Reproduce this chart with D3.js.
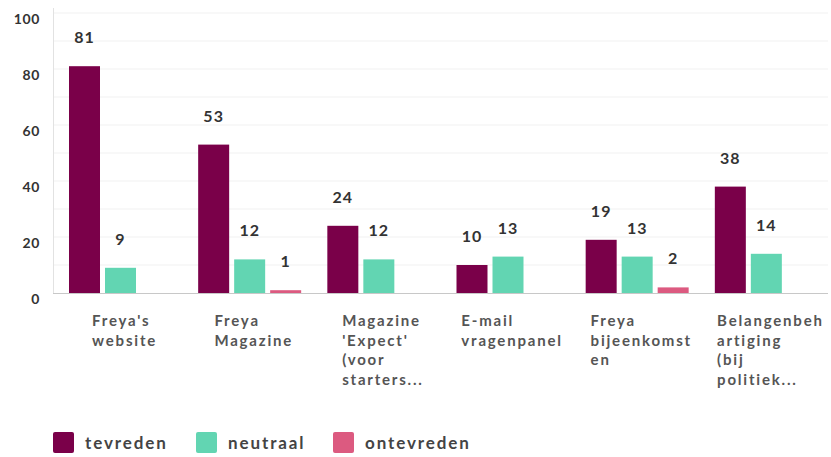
<!DOCTYPE html>
<html><head><meta charset="utf-8">
<script src="https://cdn.jsdelivr.net/npm/d3@7"></script>
<style>body{margin:0;background:#fff}svg{display:block}</style>
</head><body><svg id="c" width="831" height="457"></svg>
<script>
const categories = ["Freya's\nwebsite", "Freya\nMagazine", "Magazine\n'Expect'\n(voor\nstarters...", "E-mail\nvragenpanel", "Freya\nbijeenkomst\nen", "Belangenbeh\nartiging\n(bij\npolitiek..."];
const seriesNames = ["tevreden", "neutraal", "ontevreden"];
const tevreden = [81, 53, 24, 10, 19, 38];
const neutraal = [9, 12, 12, 13, 13, 14];
const ontevreden = [0, 1, 0, 0, 2, 0];
const yTicks = [0, 20, 40, 60, 80, 100];
const colors = ["#7a0049", "#62d5b2", "#dc5a80"];

const series = [tevreden, neutraal, ontevreden];
const svg = d3.select("#c");
const plotLeft = 53, plotRight = 828, plotTop = 13, plotBottom = 293;
const y = d3.scaleLinear().domain([0, 100]).range([plotBottom, plotTop]);
const x0 = d3.scaleBand().domain(d3.range(categories.length)).range([plotLeft, plotRight]).padding(0);
const x1 = d3.scaleBand().domain(d3.range(series.length)).range([16, 119]).paddingInner(0.139).paddingOuter(0);

// gridlines
svg.append("g").selectAll("line").data(d3.range(10, 101, 10)).join("line")
  .attr("x1", plotLeft).attr("x2", plotRight).attr("y1", d => y(d)).attr("y2", d => y(d))
  .attr("stroke", "#f1f1f1").attr("stroke-width", 1);

// y axis line
svg.append("line").attr("x1", plotLeft + 0.5).attr("x2", plotLeft + 0.5).attr("y1", 8).attr("y2", plotBottom)
  .attr("stroke", "#e2e2e2");

// y tick labels
svg.append("g").selectAll("text").data(yTicks).join("text")
  .attr("x", 40).attr("y", d => y(d) + 6).attr("dy", "0.35em")
  .attr("text-anchor", "end").attr("font-family", "Lato, sans-serif").attr("font-weight", 700)
  .attr("font-size", 14).attr("letter-spacing", 0.6).attr("fill", "#333").text(d => d);

// bars
const groups = svg.append("g").selectAll("g").data(categories).join("g")
  .attr("transform", (d, i) => `translate(${x0(i)},0)`);
groups.each(function(c, i) {
  const g = d3.select(this);
  series.forEach((s, j) => {
    const v = s[i];
    g.append("rect").attr("x", x1(j)).attr("width", x1.bandwidth())
      .attr("y", y(v)).attr("height", plotBottom - y(v)).attr("fill", colors[j]);
    if (v > 0) {
      g.append("text").attr("x", x1(j) + x1.bandwidth() / 2).attr("y", y(v) - 23)
        .attr("text-anchor", "middle").attr("font-family", "Lato, sans-serif").attr("font-weight", 700)
        .attr("font-size", 16).attr("letter-spacing", 1).attr("fill", "#333").text(v);
    }
  });
  const t = g.append("text").attr("y", 326)
    .attr("font-family", "Lato, sans-serif").attr("font-weight", 700).attr("font-size", 15)
    .attr("letter-spacing", 1.8).attr("fill", "#555");
  const lines = c.split("\n");
  lines.forEach((line, k) => {
    t.append("tspan").attr("dy", k === 0 ? 0 : 19.5).text(line);
  });
  let maxW = 0;
  t.selectAll("tspan").each(function() { maxW = Math.max(maxW, this.getComputedTextLength()); });
  const lx = x0.bandwidth() / 2 + 7 - maxW / 2;
  t.selectAll("tspan").attr("x", lx);
});

// baseline
svg.append("line").attr("x1", plotLeft).attr("x2", plotRight).attr("y1", plotBottom + 0.5).attr("y2", plotBottom + 0.5)
  .attr("stroke", "#c8c8c8");

// legend
const legX = [53, 196, 333];
const leg = svg.append("g").selectAll("g").data(seriesNames).join("g")
  .attr("transform", (d, i) => `translate(${legX[i]},432)`);
leg.append("rect").attr("width", 21).attr("height", 21).attr("rx", 2).attr("fill", (d, i) => colors[i]);
leg.append("text").attr("x", 32).attr("y", 11).attr("dy", "0.35em")
  .attr("font-family", "Lato, sans-serif").attr("font-weight", 700).attr("font-size", 17)
  .attr("letter-spacing", 1.9).attr("fill", "#444").text(d => d);
</script></body></html>
